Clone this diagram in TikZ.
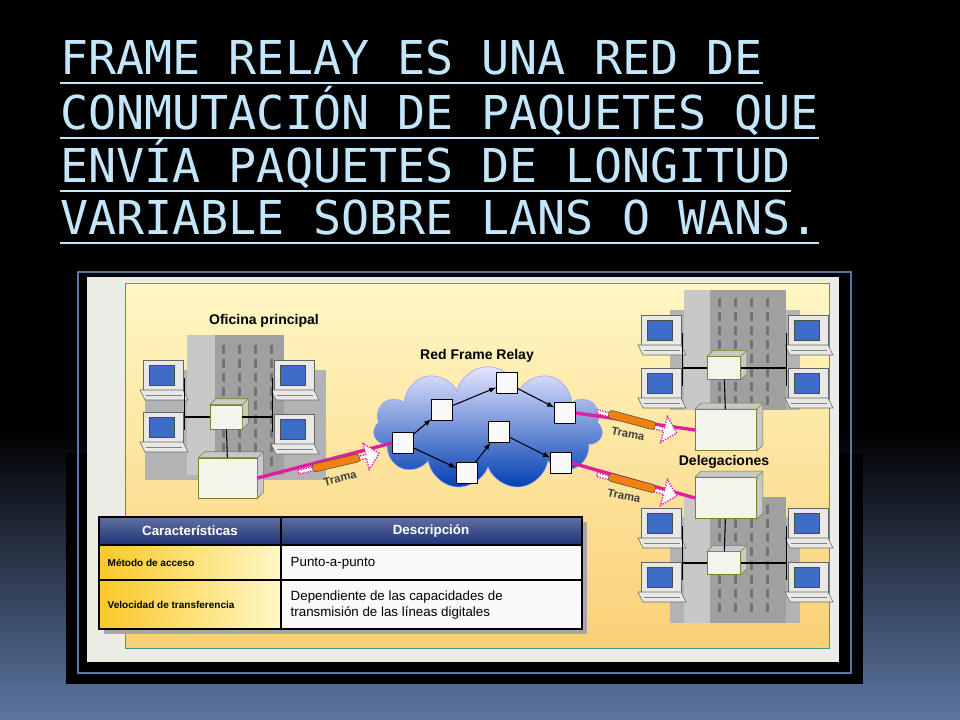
\documentclass[tikz,border=0pt]{standalone}
\usepackage{fontspec}
\setmainfont{Liberation Sans}
\newfontfamily\titlefont{DejaVu Sans Mono}
\usetikzlibrary{shapes.symbols,shapes.arrows,calc}
\definecolor{titleblue}{RGB}{196,230,250}
\definecolor{slide}{RGB}{92,118,162}
\definecolor{paleyellow}{RGB}{255,247,196}
\definecolor{deepyellow}{RGB}{250,208,118}
\definecolor{framegray}{RGB}{236,236,230}
\definecolor{tealline}{RGB}{70,150,150}
\definecolor{bldgray}{RGB}{160,160,160}
\definecolor{bldlight}{RGB}{200,200,200}
\definecolor{pcgray}{RGB}{232,232,228}
\definecolor{screenblue}{RGB}{60,110,200}
\definecolor{cubefill}{RGB}{245,244,236}
\definecolor{cubeedge}{RGB}{120,130,40}
\definecolor{linkpink}{RGB}{225,30,160}
\definecolor{hdrblue}{RGB}{30,50,120}
\definecolor{cellorange}{RGB}{250,200,40}
\newcommand{\cubeside}[1]{%
  \filldraw[fill=bldlight,draw=cubeedge] (#1.north west) -- ++(6,-6) -- ($(#1.north east)+(6,-6)$) -- ($(#1.south east)+(6,-6)$) -- (#1.south east) -- (#1.north east) -- cycle;
  \draw[cubeedge] (#1.north east) -- ++(6,-6);}
\begin{document}
\begin{tikzpicture}[x=0.75pt,y=-0.75pt,
   title/.style={font=\titlefont\fontsize{35}{35}\selectfont,text=titleblue,inner sep=0pt,anchor=base west},
   titleline/.style={titleblue,line width=1.5pt},
   label/.style={font=\bfseries\fontsize{10.5}{12}\selectfont},
   trama/.style={font=\bfseries\fontsize{8.5}{10}\selectfont,text=black!75},
   cube/.style={draw=cubeedge,fill=cubefill,inner sep=0pt},
   router/.style={draw,fill=white!95!gray,inner sep=0pt,minimum size=16pt},
   hop/.style={->,>=latex,thick},
   lan/.style={black,thick},
   link/.style={linkpink,line width=2.5pt},
   pkt/.style={single arrow,draw=linkpink,fill=white,line width=1pt,densely dotted,minimum height=62pt,minimum width=20pt,single arrow head extend=3pt,inner sep=0pt},
   cyl/.style={draw=black!70,fill=orange!80!brown,rounded corners=2pt,minimum width=36pt,minimum height=6pt,inner sep=0pt},
   hdr/.style={text=white,font=\bfseries\fontsize{10}{12}\selectfont},
   lcell/.style={font=\bfseries\fontsize{7.5}{9}\selectfont,anchor=west},
   rcell/.style={font=\fontsize{10}{12}\selectfont,anchor=west,align=left},
   pc/.pic={
     \coordinate (-c) at (0,0);
     \filldraw[fill=pcgray,draw=black!60] (-20,-18) rectangle (20,12);
     \filldraw[fill=screenblue,draw=black!70] (-14,-13) rectangle (11,7);
     \filldraw[fill=pcgray,draw=black!60] (-23,12) -- (20,12) -- (25,22) -- (-18,22) -- cycle;
     \draw[black!50] (-17,17) -- (19,17);}]
\useasboundingbox (0,0) rectangle (960,720);
% slide background
\fill[black] (0,0) rectangle (960,720);
\shade[top color=black,bottom color=slide] (0,430) rectangle (960,720);
% title
\node[title] (t1) at (60,75) {FRAME RELAY ES UNA RED DE};
\node[title] (t2) at (60,130) {CONMUTACIÓN DE PAQUETES QUE};
\node[title] (t3) at (60,183) {ENVÍA PAQUETES DE LONGITUD};
\node[title] (t4) at (60,235) {VARIABLE SOBRE LANS O WANS.};
\foreach \t in {t1,t2,t3,t4}
  \draw[titleline] ([yshift=-6pt]\t.base west) -- ([yshift=-6pt]\t.base east);
% picture frame
\fill[black] (66,453) rectangle (863,684);
\draw[slide,line width=2pt] (78,272) rectangle (851,673);
\fill[framegray] (87,277) rectangle (839,662);
\shade[top color=paleyellow,bottom color=deepyellow,draw=tealline] (125,283) rectangle (829,648);
% left building
\fill[bldgray!80] (145,370) rectangle (326,480);
\fill[bldgray] (187,335) rectangle (284,475);
\fill[bldlight] (187,335) rectangle (215,475);
\foreach \yy in {345,359,...,460}
  \foreach \xx in {222,238,254,270}
    \fill[black!55] (\xx,\yy) rectangle ++(3,9);
% right buildings
\foreach \top/\bot in {290/410,497/623}{
  \fill[bldgray!80] (670,\top+20) rectangle (800,\bot);
  \fill[bldgray] (684,\top) rectangle (786,\bot);
  \fill[bldlight] (684,\top) rectangle (710,\bot);
  \foreach \yy in {8,22,...,110}
    \foreach \xx in {718,734,750,766}
      \fill[black!55] (\xx,\top+\yy) rectangle ++(3,9);}
% computers
\pic (lpc1) at (163,378) {pc};
\pic (lpc2) at (163,430) {pc};
\pic (lpc3) at (294,378) {pc};
\pic (lpc4) at (294,432) {pc};
\pic (rpc1) at (661,333) {pc};
\pic (rpc2) at (661,386) {pc};
\pic (rpc3) at (808,333) {pc};
\pic (rpc4) at (808,386) {pc};
\pic (rpc5) at (661,526) {pc};
\pic (rpc6) at (661,580) {pc};
\pic (rpc7) at (808,526) {pc};
\pic (rpc8) at (808,580) {pc};
% hubs and routers
\node[cube,minimum width=24pt,minimum height=18pt] (lhub) at (226,417) {};
\node[cube,minimum width=44pt,minimum height=30pt] (lrt) at (228,478) {};
\node[cube,minimum width=25pt,minimum height=17pt] (rhub1) at (724,368) {};
\node[cube,minimum width=46pt,minimum height=31pt] (rrt1) at (726,430) {};
\node[cube,minimum width=46pt,minimum height=31pt] (rrt2) at (726,498) {};
\node[cube,minimum width=25pt,minimum height=17pt] (rhub2) at (724,563) {};
\foreach \c in {lhub,lrt,rhub1,rrt1,rrt2,rhub2} \cubeside{\c}
% lan wiring
\foreach \p in {lpc1,lpc2} \draw[lan] (lhub.west) -| ([xshift=16pt]\p-c);
\foreach \p in {lpc3,lpc4} \draw[lan] (lhub.east) -| ([xshift=-16pt]\p-c);
\draw[lan] (lhub) -- (lrt);
\foreach \p in {rpc1,rpc2} \draw[lan] (rhub1.west) -| ([xshift=16pt]\p-c);
\foreach \p in {rpc3,rpc4} \draw[lan] (rhub1.east) -| ([xshift=-16pt]\p-c);
\draw[lan] (rhub1) -- (rrt1);
\foreach \p in {rpc5,rpc6} \draw[lan] (rhub2.west) -| ([xshift=16pt]\p-c);
\foreach \p in {rpc7,rpc8} \draw[lan] (rhub2.east) -| ([xshift=-16pt]\p-c);
\draw[lan] (rhub2) -- (rrt2);
% cloud
\node[cloud,cloud puffs=11,aspect=1.9,minimum width=172pt,minimum height=92pt,
      top color=blue!10,bottom color=blue!65!cyan!70!black,draw=blue!40] (cloud) at (488,428) {};
\node[label] (net) at (477,356) {Red Frame Relay};
\node[router] (n1) at (403,443) {};
\node[router] (n2) at (442,410) {};
\node[router] (n3) at (507,383) {};
\node[router] (n4) at (565,413) {};
\node[router] (n5) at (499,432) {};
\node[router] (n6) at (467,473) {};
\node[router] (n7) at (561,463) {};
\draw[hop] (n1) -- (n2);
\draw[hop] (n2) -- (n3);
\draw[hop] (n3) -- (n4);
\draw[hop] (n1) -- (n6);
\draw[hop] (n6) -- (n5);
\draw[hop] (n5) -- (n7);
% links and frames
\draw[link] (lrt.east) -- (n1.west);
\draw[link] (n4.east) -- (rrt1.west);
\draw[link] (n7.east) -- (rrt2.west);
\node[pkt,rotate=13] (f1) at (338,463) {};
\node[cyl,rotate=13] (c1) at (336,463) {};
\node[trama,rotate=15] (tr1) at (340,478) {Trama};
\node[pkt,rotate=-15] (f2) at (636,422) {};
\node[cyl,rotate=-15] (c2) at (632,420) {};
\node[trama,rotate=-12] (tr2) at (628,434) {Trama};
\node[pkt,rotate=-15] (f3) at (636,485) {};
\node[cyl,rotate=-15] (c3) at (632,483) {};
\node[trama,rotate=-12] (tr3) at (624,496) {Trama};
\node[label] (ofi) at (264,321) {Oficina principal};
\node[label] (del) at (724,462) {Delegaciones};
% table
\fill[black!35] (104,522) rectangle (587,634);
\shade[top color=hdrblue!70,bottom color=hdrblue] (99,517) rectangle (582,545);
\shade[left color=cellorange,right color=paleyellow] (99,545) rectangle (281,629);
\fill[white!95!gray] (281,545) rectangle (582,629);
\draw[black,thick] (99,517) rectangle (582,629);
\draw[black,thick] (281,517) -- (281,629);
\draw[black,thick] (99,545) -- (582,545);
\draw[black,thick] (99,580) -- (582,580);
\node[hdr] (h1) at (190,531) {Características};
\node[hdr] (h2) at (431,531) {Descripción};
\node[lcell] (m1) at (103,563) {Método de acceso};
\node[lcell] (m2) at (103,605) {Velocidad de transferencia};
\node[rcell] (d1) at (286,563) {Punto-a-punto};
\node[rcell] (d2) at (286,605) {Dependiente de las capacidades de\\transmisión de las líneas digitales};
\end{tikzpicture}
\end{document}
